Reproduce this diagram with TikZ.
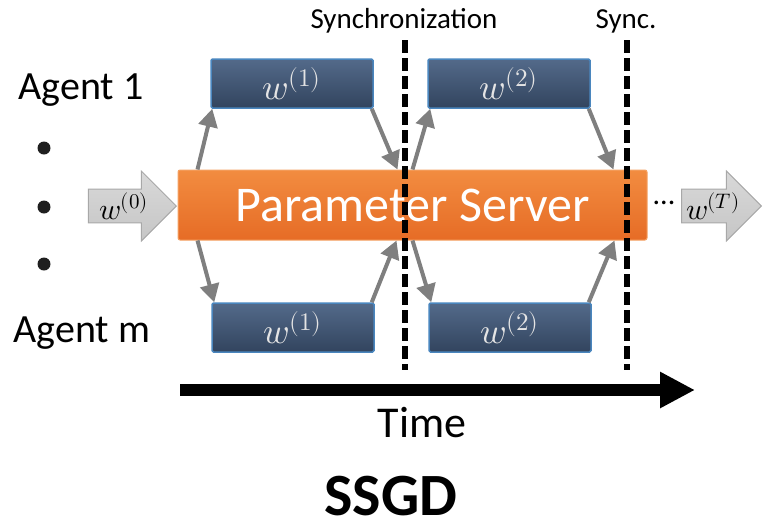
\documentclass[tikz,border=0pt]{standalone}
\usepackage{fontspec}
\usepackage{unicode-math}
\setmainfont{Carlito}
\usetikzlibrary{positioning,arrows.meta,shapes.arrows}

\definecolor{boxtop}{HTML}{536A8A}
\definecolor{boxbot}{HTML}{32445E}
\definecolor{boxedge}{HTML}{4A86BE}
\definecolor{boxtext}{HTML}{E4E4E4}
\definecolor{pstop}{HTML}{F28C40}
\definecolor{psbot}{HTML}{E66C26}
\definecolor{psedge}{HTML}{F5A264}
\definecolor{flowgray}{HTML}{7F7F7F}
\definecolor{inedge}{HTML}{A8A8A8}

\begin{document}
\begin{tikzpicture}[
    x=1pt, y=-1pt,
    agent/.style={anchor=base west, font=\fontsize{40}{48}\selectfont},
    synclabel/.style={anchor=base, font=\fontsize{29}{34}\selectfont},
    wbox/.style={draw=boxedge, line width=1.5pt, rounded corners=1.5pt,
                 top color=boxtop, bottom color=boxbot, text=boxtext,
                 minimum width=162pt, minimum height=49pt, inner sep=0pt,
                 font=\fontsize{36}{42}\selectfont},
    server/.style={draw=psedge, line width=1pt, rounded corners=2pt,
                   top color=pstop, bottom color=psbot, text=white,
                   minimum width=469pt, minimum height=70pt, inner sep=0pt,
                   font=\fontsize{50}{60}\selectfont},
    inarrow/.style={single arrow, draw=inedge, line width=1pt,
                    top color=gray!30, bottom color=gray!45,
                    single arrow head extend=18pt, inner xsep=4pt, inner ysep=3pt,
                    anchor=tip, font=\fontsize{30}{36}\selectfont},
    flow/.style={-{Triangle[length=18pt,width=19pt]}, line width=4pt, draw=flowgray},
    syncline/.style={line width=6pt, dash pattern=on 13pt off 5pt},
    timeline/.style={-{Triangle[length=35pt,width=34pt]}, line width=12pt},
    dot/.style={circle, fill=black!88, minimum size=13pt, inner sep=0pt},
  ]
    \useasboundingbox (0,0) rectangle (763,531);

    % Agents on the left
    \node[agent] (agent1) at (15,99) {Agent 1};
    \node[agent] (agentm) at (10,342) {Agent m};
    \node[dot] (dot1) at (44,148) {};
    \node[dot] (dot2) at (44,207) {};
    \node[dot] (dot3) at (44,264) {};

    % Parameter server and local models
    \node[server] (ps) at (412.5,205) {Parameter Server};
    \node[wbox] (tb1) at (292,83.5) {$w^{(1)}$};
    \node[wbox] (tb2) at (509,83.5) {$w^{(2)}$};
    \node[wbox] (bb1) at (293,327.5) {$w^{(1)}$};
    \node[wbox] (bb2) at (510,327.5) {$w^{(2)}$};

    % Input and output
    \node[inarrow, minimum height=88pt] (w0) at (177,206) {$w^{(0)}$};
    \node[inarrow, minimum height=77pt] (wT) at (762,206) {$w^{(T)}$};
    \node[font=\fontsize{30}{36}\selectfont] (cdots) at (664,203) {...};

    % Push and pull, top agent
    \draw[flow] ([xshift=20pt]ps.north west) -- ([xshift=2pt]tb1.south west);
    \draw[flow] ([xshift=-2pt]tb1.south east) -- ([xshift=220pt]ps.north west);
    \draw[flow] ([xshift=235pt]ps.north west) -- ([xshift=3pt]tb2.south west);
    \draw[flow] ([xshift=-2pt]tb2.south east) -- ([xshift=436pt]ps.north west);
    % Push and pull, bottom agent
    \draw[flow] ([xshift=20pt]ps.south west) -- ([xshift=3pt]bb1.north west);
    \draw[flow] ([xshift=-3pt]bb1.north east) -- ([xshift=219pt]ps.south west);
    \draw[flow] ([xshift=235pt]ps.south west) -- ([xshift=3pt]bb2.north west);
    \draw[flow] ([xshift=-3pt]bb2.north east) -- ([xshift=437pt]ps.south west);

    % Synchronization barriers
    \node[synclabel] (sync1) at (404,28) {Synchronization};
    \node[synclabel] (sync2) at (626,28) {Sync.};
    \coordinate (s1top) at (405,40);
    \coordinate (s1bot) at (405,370);
    \coordinate (s2top) at (627,40);
    \coordinate (s2bot) at (627,370);
    \draw[syncline] (s1top) -- (s1bot);
    \draw[syncline] (s2top) -- (s2bot);

    % Time axis
    \coordinate (tstart) at (180,390);
    \coordinate (tend) at (695,390);
    \draw[timeline] (tstart) -- (tend);
    \node[anchor=base, font=\fontsize{44}{52}\selectfont] (time) at (422,437) {Time};

    \node[anchor=base, inner sep=0pt, font=\fontsize{60}{70}\selectfont\bfseries] (title) at (391,515) {SSGD};
  \end{tikzpicture}
\end{document}
